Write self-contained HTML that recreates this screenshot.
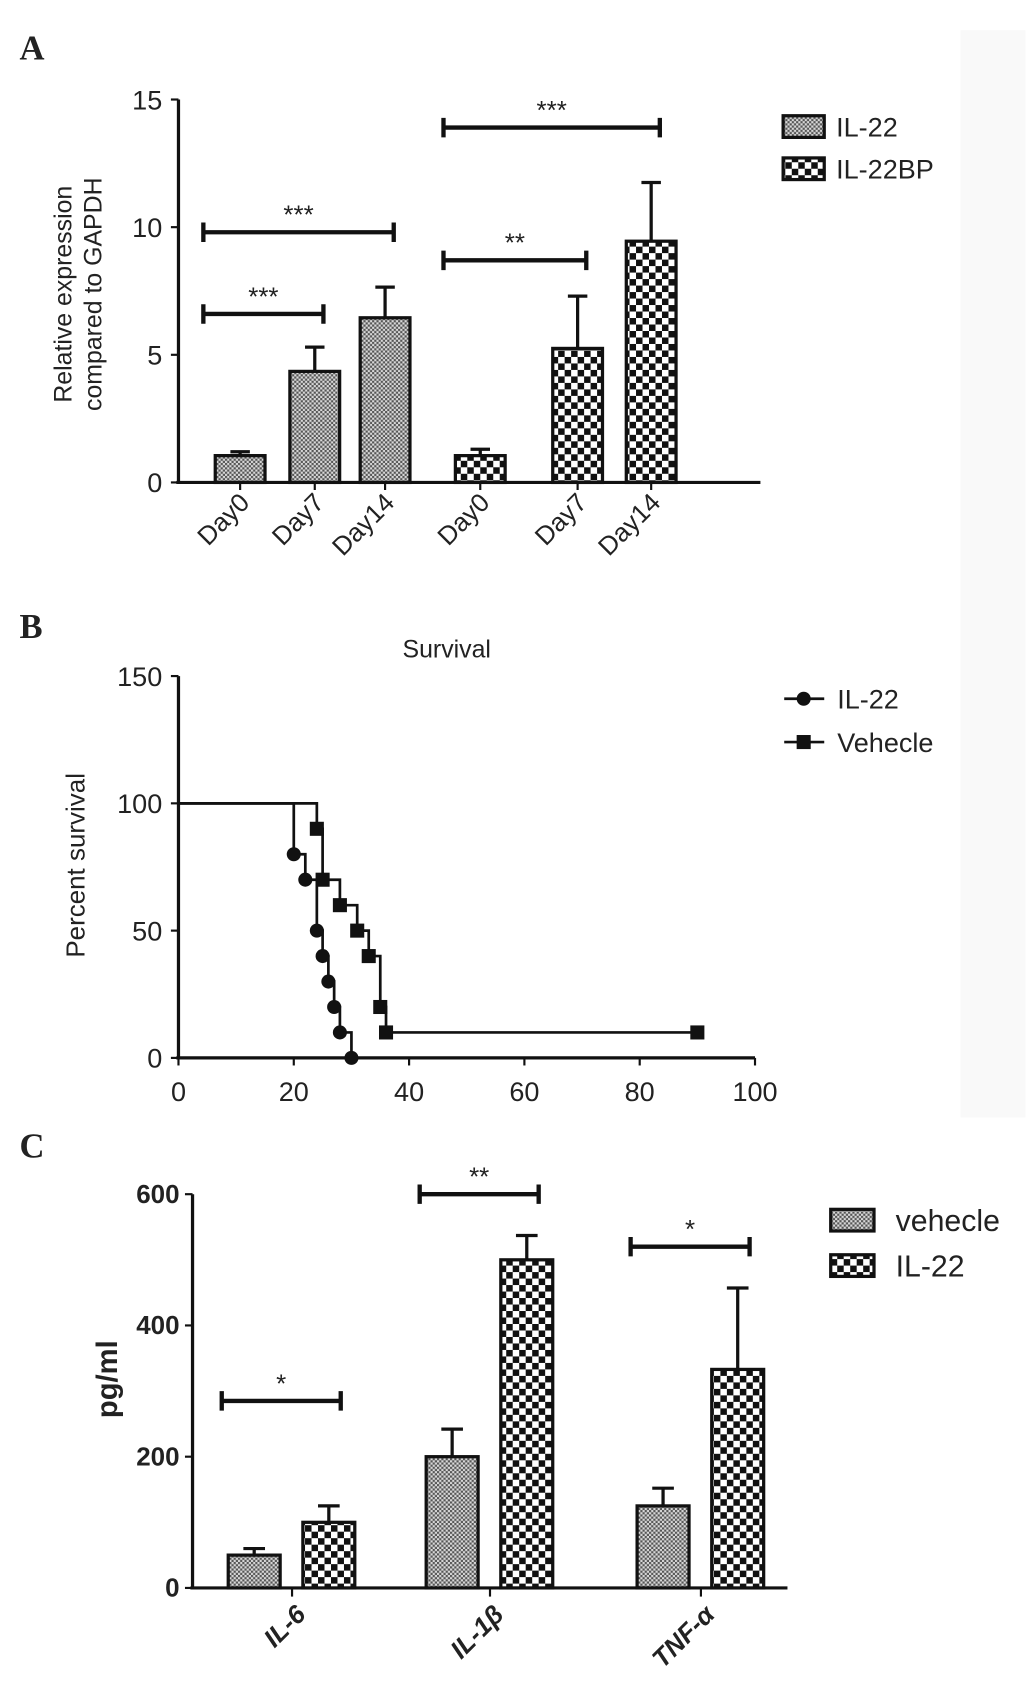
<!DOCTYPE html>
<html><head><meta charset="utf-8"><style>
html,body{margin:0;padding:0;background:#fff;}
svg{display:block;}
text{font-family:"Liberation Sans",sans-serif;fill:#222;}
text.serif{font-family:"Liberation Serif",serif;}
</style></head><body>
<svg id="fig" width="1033" height="1700" viewBox="0 0 955 1571.6" preserveAspectRatio="none">
<defs>
<pattern id="fine" width="4" height="4" patternUnits="userSpaceOnUse"><rect width="4" height="4" fill="#d8d8d8"/><rect width="2" height="2" fill="#555"/><rect x="2" y="2" width="2" height="2" fill="#555"/></pattern>
<pattern id="coarse" width="12" height="12" patternUnits="userSpaceOnUse"><rect width="12" height="12" fill="#fff"/><rect width="6" height="6" fill="#111"/><rect x="6" y="6" width="6" height="6" fill="#111"/></pattern>
</defs>
<rect x="0" y="0" width="955" height="1571.6" fill="#fff"/>
<rect x="888" y="28" width="60" height="1005" fill="#f9f9f9"/>
<g id="pa"></g>
<g id="pb"></g>
<g id="pc"></g>
</svg>
<script>
// Panel A data
const aCats = ["Day0","Day7","Day14","Day0","Day7","Day14"];
const aSeries = ["IL-22","IL-22","IL-22","IL-22BP","IL-22BP","IL-22BP"];
const aValues = [1.05,4.35,6.45,1.05,5.25,9.45];
const aErrors = [0.15,0.95,1.2,0.25,2.05,2.3];
const aTicks = [0,5,10,15];
const aSig = [{from:0,to:1,y:6.6,label:"***"},{from:0,to:2,y:9.8,label:"***"},{from:3,to:4,y:8.7,label:"**"},{from:3,to:5,y:13.9,label:"***"}];
// Panel B data
const bIL22x = [0,20,22,24,25,26,27,28,30];
const bIL22y = [100,80,70,50,40,30,20,10,0];
const bVehx = [0,24,25,28,31,33,35,36,90];
const bVehy = [100,90,70,60,50,40,20,10,10];
const bXTicks = [0,20,40,60,80,100];
const bYTicks = [0,50,100,150];
// Panel C data
const cCats = ["IL-6","IL-1\u03b2","TNF-\u03b1"];
const cVeh = [50,200,125];
const cVehErr = [10,42,27];
const cIL22 = [100,500,333];
const cIL22Err = [25,37,124];
const cTicks = [0,200,400,600];
const cSig = [{cat:0,y:285,label:"*"},{cat:1,y:600,label:"**"},{cat:2,y:520,label:"*"}];

const NS="http://www.w3.org/2000/svg";
function el(parent,tag,attrs,txt){const e=document.createElementNS(NS,tag);for(const k in attrs)e.setAttribute(k,attrs[k]);if(txt!==undefined)e.textContent=txt;parent.appendChild(e);return e;}

// ---------- Panel A ----------
(function(){
const g=document.getElementById('pa');
const ay=v=>446-v*(354/15);
const ax=[222,291,356,444,534,602];
const bw=46;
let t=el(g,'text',{x:18,y:55,class:'serif','font-weight':'bold','font-size':32},'A');


let yl=el(g,'line',{x1:165,y1:ay(15),x2:165,y2:446,stroke:'#111','stroke-width':3});


let xl=el(g,'line',{x1:163,y1:446,x2:703,y2:446,stroke:'#111','stroke-width':3});


aTicks.forEach(v=>{
 el(g,'line',{x1:158,y1:ay(v),x2:165,y2:ay(v),stroke:'#111','stroke-width':2});
 let tl=el(g,'text',{x:150,y:ay(v)+9,'text-anchor':'end','font-size':25},String(v));
 
 
});
aValues.forEach((v,i)=>{
 const cx=ax[i];
 const top=ay(v+aErrors[i]);
 el(g,'line',{x1:cx,y1:top,x2:cx,y2:ay(v),stroke:'#111','stroke-width':3});
 el(g,'line',{x1:cx-9,y1:top,x2:cx+9,y2:top,stroke:'#111','stroke-width':3});
 let r=el(g,'rect',{x:cx-bw/2,y:ay(v),width:bw,height:446-ay(v),fill:aSeries[i]==='IL-22'?'url(#fine)':'url(#coarse)',stroke:'#111','stroke-width':3});
 
 
 el(g,'line',{x1:cx,y1:446,x2:cx,y2:453,stroke:'#111','stroke-width':2});
 let xt=el(g,'text',{x:cx+10,y:466,'text-anchor':'end','font-size':24,transform:`rotate(-45 ${cx+10} 466)`},aCats[i]);
 
 
});
aSig.forEach(s=>{
 const x1=ax[s.from]-34,x2=ax[s.to]+8,y=ay(s.y);
 let b=el(g,'path',{d:`M${x1} ${y-9}V${y+9}M${x1} ${y}H${x2}M${x2} ${y-9}V${y+9}`,stroke:'#111','stroke-width':4,fill:'none'});
 
 
 let st=el(g,'text',{x:(x1+x2)/2,y:y-8,'text-anchor':'middle','font-size':24},s.label);
 
 
});
let t1=el(g,'text',{x:66,y:272,'text-anchor':'middle','font-size':23,transform:'rotate(-90 66 272)'},'Relative expression');


let t2=el(g,'text',{x:94,y:272,'text-anchor':'middle','font-size':23,transform:'rotate(-90 94 272)'},'compared to GAPDH');


[["IL-22","url(#fine)",117],["IL-22BP","url(#coarse)",156]].forEach(([n,f,y])=>{
 let lg=el(g,'g',{});
 
 
 el(lg,'rect',{x:724,y:y-10,width:38,height:20,fill:f,stroke:'#111','stroke-width':3});
 el(lg,'text',{x:773,y:y+9,'font-size':25},n);
});
})();

// ---------- Panel B ----------
(function(){
const g=document.getElementById('pb');
const bx=v=>165+v*5.33;
const by=v=>978-v*(353/150);
let t=el(g,'text',{x:18,y:590,class:'serif','font-weight':'bold','font-size':32},'B');


let tt=el(g,'text',{x:413,y:608,'text-anchor':'middle','font-size':23},'Survival');


let yl=el(g,'line',{x1:165,y1:by(150),x2:165,y2:978,stroke:'#111','stroke-width':3});


let xl=el(g,'line',{x1:163,y1:978,x2:bx(100),y2:978,stroke:'#111','stroke-width':3});


bYTicks.forEach(v=>{
 el(g,'line',{x1:158,y1:by(v),x2:165,y2:by(v),stroke:'#111','stroke-width':2});
 let tl=el(g,'text',{x:150,y:by(v)+9,'text-anchor':'end','font-size':25},String(v));
 
 
});
bXTicks.forEach(v=>{
 el(g,'line',{x1:bx(v),y1:978,x2:bx(v),y2:985,stroke:'#111','stroke-width':2});
 let tl=el(g,'text',{x:bx(v),y:1018,'text-anchor':'middle','font-size':25},String(v));
 
 
});
let yt=el(g,'text',{x:78,y:800,'text-anchor':'middle','font-size':24,transform:'rotate(-90 78 800)'},'Percent survival');


function curve(xs,ys,marker,name){
 let d=`M${bx(xs[0])} ${by(ys[0])}`;
 for(let i=1;i<xs.length;i++){d+=`H${bx(xs[i])}V${by(ys[i])}`;}
 let p=el(g,'path',{d:d,stroke:'#111','stroke-width':2.5,fill:'none'});
 
 
 for(let i=1;i<xs.length;i++){
  let m;
  if(marker==='circle') m=el(g,'circle',{cx:bx(xs[i]),cy:by(ys[i]),r:6.5,fill:'#111'});
  else m=el(g,'rect',{x:bx(xs[i])-6.5,y:by(ys[i])-6.5,width:13,height:13,fill:'#111'});
  
  
 }
}
curve(bIL22x,bIL22y,'circle','il22');
curve(bVehx,bVehy,'square','vehecle');
[["IL-22","circle",646],["Vehecle","square",686]].forEach(([n,m,y])=>{
 let lg=el(g,'g',{});
 
 
 el(lg,'line',{x1:725,y1:y,x2:762,y2:y,stroke:'#111','stroke-width':2.5});
 if(m==='circle') el(lg,'circle',{cx:743,cy:y,r:6.5,fill:'#111'});
 else el(lg,'rect',{x:736.5,y:y-6.5,width:13,height:13,fill:'#111'});
 el(lg,'text',{x:774,y:y+9,'font-size':25},n);
});
})();

// ---------- Panel C ----------
(function(){
const g=document.getElementById('pc');
const cy=v=>1468-v*(364/600);
const cx=[270,453,648];
const bw=48, off=[-35,34];
let t=el(g,'text',{x:18,y:1070,class:'serif','font-weight':'bold','font-size':32},'C');


let yl=el(g,'line',{x1:178,y1:cy(600),x2:178,y2:1468,stroke:'#111','stroke-width':3});


let xl=el(g,'line',{x1:176,y1:1468,x2:728,y2:1468,stroke:'#111','stroke-width':3});


cTicks.forEach(v=>{
 el(g,'line',{x1:171,y1:cy(v),x2:178,y2:cy(v),stroke:'#111','stroke-width':2});
 let tl=el(g,'text',{x:166,y:cy(v)+8,'text-anchor':'end','font-size':24,'font-weight':'bold'},String(v));
 
 
});
cCats.forEach((c,i)=>{
 [[cVeh[i],cVehErr[i],'url(#fine)','vehecle'],[cIL22[i],cIL22Err[i],'url(#coarse)','il22']].forEach(([v,e,f,n],j)=>{
  const x=cx[i]+off[j];
  const top=cy(v+e);
  el(g,'line',{x1:x,y1:top,x2:x,y2:cy(v),stroke:'#111','stroke-width':3});
  el(g,'line',{x1:x-10,y1:top,x2:x+10,y2:top,stroke:'#111','stroke-width':3});
  let r=el(g,'rect',{x:x-bw/2,y:cy(v),width:bw,height:1468-cy(v),fill:f,stroke:'#111','stroke-width':3});
  
  
 });
 el(g,'line',{x1:cx[i],y1:1468,x2:cx[i],y2:1476,stroke:'#111','stroke-width':2});
 let xt=el(g,'text',{x:cx[i]+14,y:1494,'text-anchor':'end','font-size':24,'font-weight':'bold','font-style':'italic',transform:`rotate(-45 ${cx[i]+14} 1494)`},c);
 
 
});
cSig.forEach(s=>{
 const x1=cx[s.cat]-65,x2=cx[s.cat]+45,y=cy(s.y);
 let b=el(g,'path',{d:`M${x1} ${y-9}V${y+9}M${x1} ${y}H${x2}M${x2} ${y-9}V${y+9}`,stroke:'#111','stroke-width':4,fill:'none'});
 
 
 let st=el(g,'text',{x:(x1+x2)/2,y:y-8,'text-anchor':'middle','font-size':24},s.label);
 
 
});
let yt=el(g,'text',{x:108,y:1275,'text-anchor':'middle','font-size':27,'font-weight':'bold',transform:'rotate(-90 108 1275)'},'pg/ml');


[["vehecle","url(#fine)",1128],["IL-22","url(#coarse)",1170]].forEach(([n,f,y])=>{
 let lg=el(g,'g',{});
 
 
 el(lg,'rect',{x:768,y:y-10,width:40,height:20,fill:f,stroke:'#111','stroke-width':3});
 el(lg,'text',{x:828,y:y+10,'font-size':28},n);
});
})();
</script>
</body></html>
